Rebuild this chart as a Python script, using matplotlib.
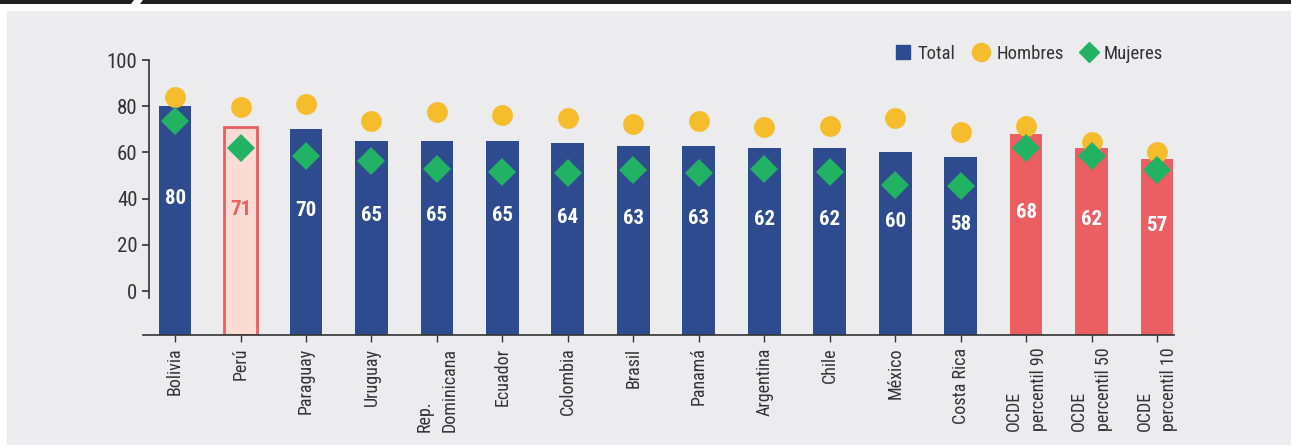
import numpy as np
import matplotlib.pyplot as plt
from matplotlib import font_manager
from matplotlib.patches import Rectangle, Polygon
from matplotlib.lines import Line2D

# tipografía estrecha si está instalada
nombres = {f.name for f in font_manager.fontManager.ttflist}
condensadas = [f.name for f in font_manager.fontManager.ttflist
               if "Narrow" in f.name or "Condensed" in f.name or f.stretch in ("condensed", "semi-condensed")]
familia = None
for cand in ["Liberation Sans Narrow", "Roboto Condensed", "DejaVu Sans Condensed"]:
    if cand in nombres:
        familia = cand
        break
if familia is None and condensadas:
    familia = condensadas[0]
plt.rcParams['font.family'] = [familia or "Roboto", 'DejaVu Sans']
if familia is None:
    plt.rcParams['font.stretch'] = 'condensed'

paises = ["Bolivia", "Perú", "Paraguay", "Uruguay", "Rep.\nDominicana", "Ecuador",
          "Colombia", "Brasil", "Panamá", "Argentina", "Chile", "México", "Costa Rica",
          "OCDE\npercentil 90", "OCDE\npercentil 50", "OCDE\npercentil 10"]
total = [80, 71, 70, 65, 65, 65, 64, 63, 63, 62, 62, 60, 58, 68, 62, 57]
hombres = [84, 79.5, 81, 73.5, 77.5, 76, 75, 72.5, 73.5, 71, 71.5, 75, 69, 71.5, 64.5, 60]
mujeres = [73.5, 62, 58.5, 56.5, 53, 51.5, 51, 52.5, 51, 53, 51.5, 46, 45.5, 62, 58.5, 52.5]

azul = "#2f4b8f"
rojo = "#eb5e62"
rosa = "#fbdcd5"
amarillo = "#f5bd2c"
verde = "#22b263"
gris = "#ececee"
texto = "#333333"

fig = plt.figure(figsize=(12.91, 4.45), dpi=100)
fig.patch.set_facecolor("white")

# panel de fondo y franja superior
fig.patches.append(Rectangle((7 / 1291, 0), 1, 1 - 11 / 445, transform=fig.transFigure,
                             facecolor=gris, edgecolor="none", zorder=-2))
fig.patches.append(Polygon([(0, 1), (134 / 1291, 1), (131 / 1291, 1 - 4 / 445), (0, 1 - 4 / 445)],
                           closed=True, transform=fig.transFigure, facecolor="#231f20",
                           edgecolor="none", zorder=-1))
fig.patches.append(Polygon([(143 / 1291, 1), (1, 1), (1, 1 - 4 / 445), (140 / 1291, 1 - 4 / 445)],
                           closed=True, transform=fig.transFigure, facecolor="#231f20",
                           edgecolor="none", zorder=-1))

ax = fig.add_axes([143 / 1291, 1 - 335 / 445, (1174 - 143) / 1291, (335 - 60) / 445])
ax.set_zorder(2)
ax.set_facecolor("none")

x = np.arange(len(paises))
base = -19
for i, v in enumerate(total):
    if i == 1:
        fc, ec, lw, tc = rosa, rojo, 2, rojo
    elif i >= 13:
        fc, ec, lw, tc = rojo, "none", 0, "white"
    else:
        fc, ec, lw, tc = azul, "none", 0, "white"
    ax.bar(x[i], v - base, bottom=base, width=0.5, color=fc, edgecolor=ec, linewidth=lw, zorder=2)
    ax.text(x[i], v / 2, f"{v}", ha="center", va="center", color=tc,
            fontsize=15, fontweight="bold", zorder=4)

ax.plot(x, hombres, "o", color=amarillo, markersize=15, markeredgewidth=0, zorder=3)
ax.plot(x, mujeres, "D", color=verde, markersize=14, markeredgewidth=0, zorder=3)

ax.set_xlim(-0.49, 15.26)
ax.set_ylim(base, 100)
ax.set_yticks([0, 20, 40, 60, 80, 100])
ax.set_xticks(x)
ax.set_xticklabels(paises, rotation=90, fontsize=13, color=texto, linespacing=1.5)
for lab in ax.get_xticklabels():
    lab.set_multialignment("left")
ax.tick_params(axis="y", labelsize=15, colors=texto, length=5, width=1.2, pad=3)
ax.tick_params(axis="x", length=5, width=1, color=texto, pad=4)

for s in ["top", "right"]:
    ax.spines[s].set_visible(False)
ax.spines["left"].set_position(("data", -0.405))
ax.spines["left"].set_bounds(-3, 100)
ax.spines["left"].set_color(texto)
ax.spines["left"].set_linewidth(1.2)
ax.spines["bottom"].set_color(texto)
ax.spines["bottom"].set_linewidth(1.2)

handles = [
    Line2D([], [], marker="s", linestyle="none", color=azul, markersize=10),
    Line2D([], [], marker="o", linestyle="none", color=amarillo, markersize=13),
    Line2D([], [], marker="D", linestyle="none", color=verde, markersize=10),
]
fig.legend(handles, ["Total", "Hombres", "Mujeres"], ncol=3, frameon=False,
           loc="center right", bbox_to_anchor=(1180 / 1291, 1 - 54 / 445),
           fontsize=13.5, labelcolor=texto, handletextpad=0.35, columnspacing=0.9,
           handlelength=0.9)

fig.savefig("out.png", dpi=100, facecolor=fig.get_facecolor())
